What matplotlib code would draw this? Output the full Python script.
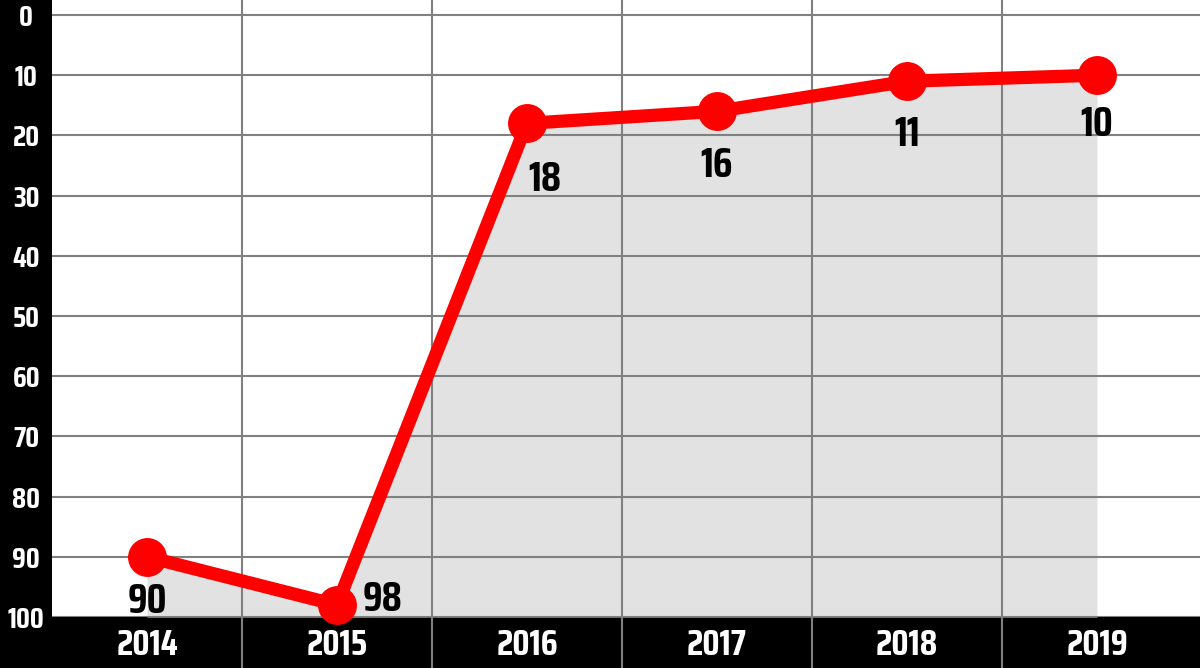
import matplotlib.pyplot as plt
from matplotlib.ticker import FixedLocator

# данные
years = ['2014', '2015', '2016', '2017', '2018', '2019']
ranks = [90, 98, 18, 16, 11, 10]
y_ticks = list(range(0, 101, 10))

# смещения подписей точек (в пунктах)
label_offsets = [(0, -29), (33, 7), (13, -37), (0, -36), (0, -35), (0, -32)]

plt.rcParams['font.family'] = ['Saira Condensed', 'DejaVu Sans']
plt.rcParams['font.weight'] = 'bold'

fig = plt.figure(figsize=(12, 6.68), dpi=100, facecolor='black')
ax = fig.add_axes([52 / 1200, 51 / 668, 1 - 52 / 1200, 1 - 51 / 668])
ax.set_facecolor('white')

x = list(range(len(years)))

# серая заливка под линией
ax.fill_between(x, ranks, 100, color='#e2e2e2', zorder=0.4, linewidth=0)

# линия с точками
ax.plot(x, ranks, color='#ff0000', linewidth=9.5, marker='o', markersize=27,
        solid_capstyle='round', zorder=3, clip_on=False)

for i, (v, off) in enumerate(zip(ranks, label_offsets)):
    ax.annotate(str(v), (i, v), xytext=off, textcoords='offset points',
                ha='center', va='center_baseline', fontsize=30, fontweight='bold',
                color='black', zorder=4)

# оси
ax.set_xlim(-0.5, (1200 - 147) / 190)
ax.set_ylim(100, -15 / 6.02)

ax.set_yticks(y_ticks)
ax.set_yticklabels([str(t) for t in y_ticks])
ax.tick_params(axis='y', length=0, pad=18.5, labelcolor='white', labelsize=21)
for lab in ax.get_yticklabels():
    lab.set_horizontalalignment('center')

ax.set_xticks(x)
ax.set_xticklabels(years)
ax.tick_params(axis='x', which='major', length=0, pad=8, labelcolor='white',
               labelsize=26)
ax.xaxis.set_minor_locator(FixedLocator([i + 0.5 for i in range(len(years) - 1)]))
ax.tick_params(axis='x', which='minor', length=37, width=1.5, color='#808080',
               direction='out')

ax.set_axisbelow(True)
ax.grid(True, axis='y', which='major', color='#808080', linewidth=1.5)
ax.grid(True, axis='x', which='minor', color='#808080', linewidth=1.5)
ax.grid(False, axis='x', which='major')

for s in ax.spines.values():
    s.set_visible(False)

plt.savefig('out.png', dpi=100, facecolor='black')
